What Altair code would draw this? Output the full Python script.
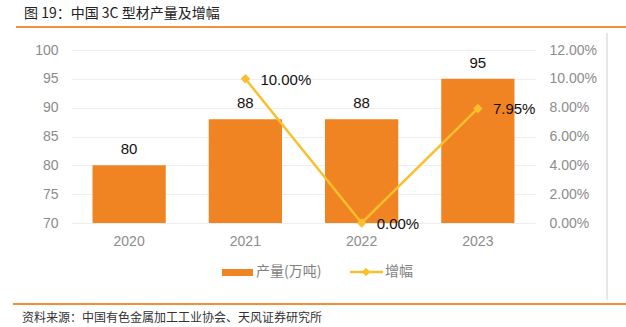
import altair as alt
import pandas as pd

years = ["2020", "2021", "2022", "2023"]
output = [80, 88, 88, 95]
growth_pct = [None, 10.00, 0.00, 7.95]

title_text = "图 19：中国 3C 型材产量及增幅"
source_text = "资料来源：中国有色金属加工工业协会、天风证券研究所"
legend_bar = "产量(万吨)"
legend_line = "增幅"

BAR = "#F08423"
LINE = "#FBBF2E"
GRAY = "#8c8c8c"
CJK = "Noto Sans CJK SC"
LAT = "Liberation Sans"

df = pd.DataFrame({"year": years, "output": output, "g": growth_pct})
df["growth"] = df["g"] / 100.0
df["glabel"] = df["g"].map(lambda v: "" if pd.isna(v) else f"{v:.2f}%")

x_enc = alt.X("year:N", title=None, sort=years,
              scale=alt.Scale(paddingInner=0.37, paddingOuter=0.185),
              axis=alt.Axis(labelAngle=0, ticks=False, domain=False, labelColor=GRAY,
                            labelFont=LAT, labelFontSize=14, labelPadding=11))

base = alt.Chart(df)

y_left = alt.Y("output:Q", title=None,
               scale=alt.Scale(domain=[70, 100], zero=False, nice=False),
               axis=alt.Axis(values=[70, 75, 80, 85, 90, 95, 100], ticks=False, domain=False,
                             labelOverlap=False,
                             labelColor=GRAY, labelFont=LAT, labelFontSize=14,
                             labelPadding=13, gridColor="#eeeeee", gridWidth=1))

bars = base.mark_bar(color=BAR).encode(x=x_enc, y=y_left, y2=alt.datum(70))
bar_text = base.mark_text(dy=-16, fontSize=15, font=LAT, color="#111111").encode(
    x=x_enc, y=y_left, text=alt.Text("output:Q"))
left = alt.layer(bars, bar_text)

y_right = alt.Y("growth:Q", title=None,
                scale=alt.Scale(domain=[0, 0.12], nice=False),
                axis=alt.Axis(orient="right", values=[0, 0.02, 0.04, 0.06, 0.08, 0.10, 0.12],
                              format=".2%", ticks=False, domain=False, grid=False,
                              labelOverlap=False,
                              labelColor=GRAY, labelFont=LAT, labelFontSize=14,
                              labelPadding=13))

gdf = base.transform_filter("isValid(datum.g)")
line = gdf.mark_line(color=LINE, strokeWidth=2.5).encode(x=x_enc, y=y_right)
pts = gdf.mark_point(shape="diamond", filled=True, color=LINE, size=90, opacity=1).encode(
    x=x_enc, y=y_right)
gtext = gdf.mark_text(align="left", dx=15, dy=1, fontSize=15, font=LAT, color="#111111").encode(
    x=x_enc, y=y_right, text="glabel:N")
right = alt.layer(line, pts, gtext)

one = alt.Chart(pd.DataFrame({"a": [0]}))
OX, OY = 71, 50

def tx(t, x, y, size, color, font, align="left", weight="normal"):
    return one.mark_text(text=t, align=align, baseline="middle", fontSize=size,
                         color=color, font=font, fontWeight=weight).encode(
        x=alt.value(x - OX), y=alt.value(y - OY))

def hline(x1, x2, y, color, w):
    return one.mark_rule(color=color, strokeWidth=w).encode(
        x=alt.value(x1 - OX), x2=alt.value(x2 - OX), y=alt.value(y - OY))

deco = [
    tx(title_text, 24, 14, 14, "#222222", CJK),
    hline(16, 626, 27, "#F0913A", 2),
    hline(13, 626, 304, "#F0913A", 2),
    one.mark_rule(color="#d0d0d0", strokeWidth=1).encode(
        x=alt.value(607 - OX), y=alt.value(33 - OY), y2=alt.value(300 - OY)),
    tx(source_text, 22, 318, 12, "#333333", CJK),
    one.mark_rect(color=BAR).encode(x=alt.value(222 - OX), x2=alt.value(253 - OX),
                                    y=alt.value(269 - OY), y2=alt.value(276 - OY)),
    tx(legend_bar, 256, 272, 14, "#7f7f7f", CJK),
    hline(350, 383, 272, LINE, 2.5),
    one.mark_point(shape="diamond", filled=True, color=LINE, size=70, opacity=1).encode(
        x=alt.value(366 - OX), y=alt.value(272 - OY)),
    tx(legend_line, 385, 272, 14, "#7f7f7f", CJK),
]

chart = alt.layer(left, right, *deco).resolve_scale(y="independent").properties(
    width=465, height=173,
    autosize=alt.AutoSizeParams(type="none"),
    padding={"left": 71, "top": 50, "right": 90, "bottom": 104},
    background="white",
).configure_view(stroke=None)

chart.save("out.html", embed_options={"renderer": "svg", "actions": False})
